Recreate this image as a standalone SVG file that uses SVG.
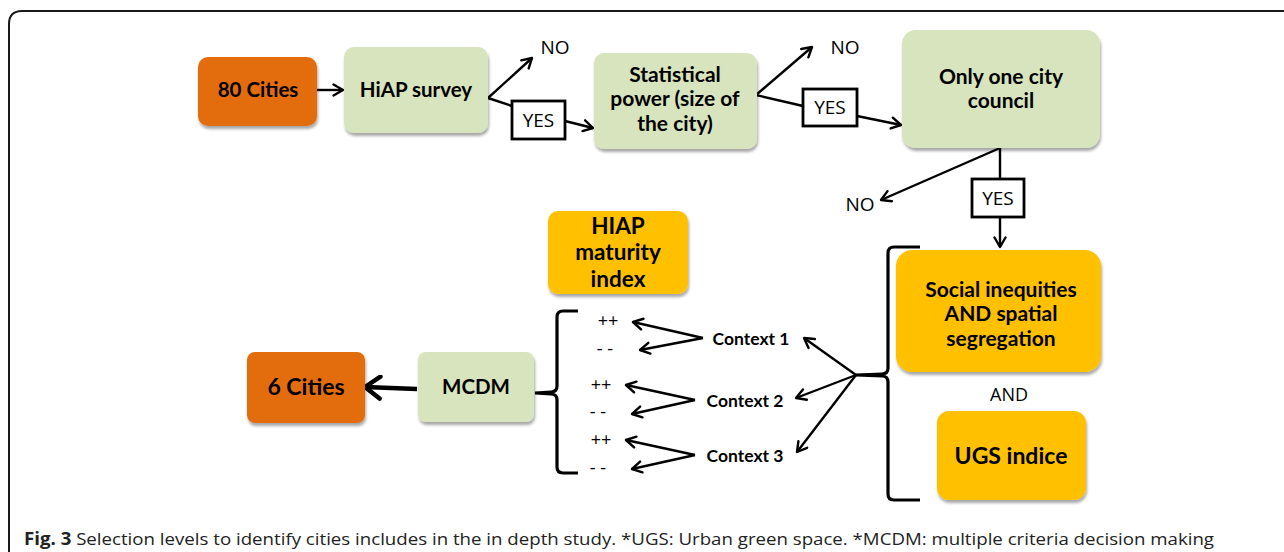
<svg xmlns="http://www.w3.org/2000/svg" width="1284" height="552" viewBox="0 0 1284 552">
<style>
.bx{stroke:none;filter:url(#sh)}
.g{fill:#D7E4BD}
.o{fill:#E36C0A}
.y{fill:#FFC000}
.t{font-family:Lato,"Open Sans","Liberation Sans",sans-serif;font-weight:bold;fill:#000;text-anchor:middle}
.r{font-family:"Open Sans","Liberation Sans",sans-serif;fill:#000;text-anchor:middle}
.c{stroke:#000;stroke-width:2.4;fill:none}
.br{stroke:#000;stroke-width:3.2;fill:none}
.lb{fill:#fff;stroke:#000;stroke-width:2.8}
</style>
<defs>
<filter id="sh" x="-10%" y="-10%" width="125%" height="130%">
<feGaussianBlur in="SourceAlpha" stdDeviation="1.5"/>
<feOffset dx="1" dy="2.5" result="b"/>
<feComponentTransfer><feFuncA type="linear" slope="0.35"/></feComponentTransfer>
<feMerge><feMergeNode/><feMergeNode in="SourceGraphic"/></feMerge>
</filter>
<marker id="a" markerWidth="14" markerHeight="14" refX="11" refY="7" orient="auto" markerUnits="userSpaceOnUse">
<path d="M1.5,1.5 L11,7 L1.5,12.5" fill="none" stroke="#000" stroke-width="2.4" stroke-linecap="round" stroke-linejoin="round"/>
</marker>
<marker id="ab" markerWidth="22" markerHeight="26" refX="18" refY="13" orient="auto" markerUnits="userSpaceOnUse">
<path d="M3,2 L18,13 L3,24" fill="none" stroke="#000" stroke-width="4.5" stroke-linecap="round" stroke-linejoin="round"/>
</marker>
</defs>
<rect width="1284" height="552" fill="#fff"/>
<path d="M9,552 L9,24 Q9,11 22,11 L1284,11" fill="none" stroke="#1a1a1a" stroke-width="2"/>

<g id="connectors">
<line class="c" x1="316" y1="90" x2="343" y2="90" marker-end="url(#a)"/>
<line class="c" x1="488" y1="98" x2="532" y2="58" marker-end="url(#a)"/>
<line class="c" x1="488" y1="98" x2="512" y2="106"/>
<line class="c" x1="565" y1="121" x2="593" y2="128" marker-end="url(#a)"/>
<line class="c" x1="756" y1="95" x2="812" y2="47" marker-end="url(#a)"/>
<line class="c" x1="756" y1="95" x2="803" y2="106"/>
<line class="c" x1="857" y1="116" x2="901" y2="125" marker-end="url(#a)"/>
<line class="c" x1="1000" y1="148" x2="881" y2="200" marker-end="url(#a)"/>
<line class="c" x1="1000" y1="148" x2="1000" y2="179"/>
<line class="c" x1="1000" y1="218" x2="1000" y2="247" marker-end="url(#a)"/>
<path class="br" d="M920,247 L894,247 Q888,247 888,253 L888,368 Q888,374 882,374 L856,375 L882,376 Q888,376 888,382 L888,494 Q888,500 894,500 L920,500"/>
<line class="c" x1="856" y1="375" x2="804" y2="338" marker-end="url(#a)"/>
<line class="c" x1="856" y1="375" x2="796" y2="398" marker-end="url(#a)"/>
<line class="c" x1="856" y1="375" x2="797" y2="452" marker-end="url(#a)"/>
<line class="c" x1="703" y1="338" x2="633" y2="322" marker-end="url(#a)"/>
<line class="c" x1="703" y1="338" x2="640" y2="350" marker-end="url(#a)"/>
<line class="c" x1="695" y1="400" x2="626" y2="385" marker-end="url(#a)"/>
<line class="c" x1="695" y1="400" x2="632" y2="414" marker-end="url(#a)"/>
<line class="c" x1="695" y1="455" x2="626" y2="440" marker-end="url(#a)"/>
<line class="c" x1="695" y1="455" x2="632" y2="469" marker-end="url(#a)"/>
<path class="br" d="M578,311 L563,311 Q557,311 557,317 L557,386 Q557,392 551,392 L535,393 L551,394 Q557,394 557,400 L557,467 Q557,473 563,473 L578,473"/>
<line x1="417" y1="389" x2="365" y2="387" stroke="#000" stroke-width="4.5" marker-end="url(#ab)"/>
</g>

<g id="n80">
<rect class="bx o" x="198" y="57" width="119" height="69" rx="10"/>
<text class="t" x="258" y="97" font-size="20.5">80 Cities</text>
</g>
<g id="hiap">
<rect class="bx g" x="344" y="47" width="144" height="86" rx="10"/>
<text class="t" x="416" y="97" font-size="20.5">HiAP survey</text>
</g>
<g id="no1"><text class="r" x="555" y="54" font-size="19">NO</text></g>
<g id="yes1">
<rect class="lb" x="512" y="101" width="53" height="38"/>
<text class="r" x="538.5" y="127" font-size="19">YES</text>
</g>
<g id="stat">
<rect class="bx g" x="594" y="53" width="163" height="96" rx="10"/>
<text class="t" x="675" y="82" font-size="21">Statistical</text>
<text class="t" x="675" y="106" font-size="21">power (size of</text>
<text class="t" x="675" y="131" font-size="21">the city)</text>
</g>
<g id="no2"><text class="r" x="845" y="54" font-size="19">NO</text></g>
<g id="yes2">
<rect class="lb" x="803" y="89" width="54" height="37"/>
<text class="r" x="830" y="114" font-size="19">YES</text>
</g>
<g id="council">
<rect class="bx g" x="902" y="30" width="198" height="118" rx="14"/>
<text class="t" x="1001" y="84" font-size="21">Only one city</text>
<text class="t" x="1001" y="108" font-size="21">council</text>
</g>
<g id="no3"><text class="r" x="860" y="211" font-size="19">NO</text></g>
<g id="yes3">
<rect class="lb" x="972" y="179" width="52" height="38"/>
<text class="r" x="998" y="205" font-size="19">YES</text>
</g>
<g id="social">
<rect class="bx y" x="896" y="250" width="205" height="122" rx="16"/>
<text class="t" x="1001" y="297" font-size="21">Social inequities</text>
<text class="t" x="1001" y="321" font-size="21">AND spatial</text>
<text class="t" x="1001" y="346" font-size="21">segregation</text>
</g>
<g id="and"><text class="r" x="1009" y="401" font-size="18">AND</text></g>
<g id="ugs">
<rect class="bx y" x="937" y="411" width="149" height="89" rx="12"/>
<text class="t" x="1011" y="464" font-size="23">UGS indice</text>
</g>
<g id="hiapidx">
<rect class="bx y" x="548" y="211" width="140" height="83" rx="10"/>
<text class="t" x="618" y="234" font-size="22.5">HIAP</text>
<text class="t" x="618" y="260" font-size="22.5">maturity</text>
<text class="t" x="618" y="287" font-size="22.5">index</text>
</g>
<g id="ctx1"><text class="t" x="751" y="345" font-size="17.5">Context 1</text></g>
<g id="ctx2"><text class="t" x="745" y="407" font-size="17.5">Context 2</text></g>
<g id="ctx3"><text class="t" x="745" y="462" font-size="17.5">Context 3</text></g>
<g id="pm">
<text class="r" x="608" y="327" font-size="18">++</text>
<text class="r" x="605" y="355" font-size="18">- -</text>
<text class="r" x="601" y="391" font-size="18">++</text>
<text class="r" x="598" y="418" font-size="18">- -</text>
<text class="r" x="601" y="446" font-size="18">++</text>
<text class="r" x="598" y="474" font-size="18">- -</text>
</g>
<g id="mcdm">
<rect class="bx g" x="418" y="352" width="116" height="70" rx="8"/>
<text class="t" x="476" y="394" font-size="20.5">MCDM</text>
</g>
<g id="n6">
<rect class="bx o" x="247" y="352" width="118" height="71" rx="8"/>
<text class="t" x="306" y="395" font-size="23">6 Cities</text>
</g>
<g id="caption">
<text x="24" y="545" font-family="'Open Sans','Liberation Sans',sans-serif" font-size="17" fill="#222" textLength="1190" lengthAdjust="spacingAndGlyphs"><tspan font-weight="bold">Fig. 3</tspan> Selection levels to identify cities includes in the in depth study. *UGS: Urban green space. *MCDM: multiple criteria decision making</text>
</g>
</svg>
